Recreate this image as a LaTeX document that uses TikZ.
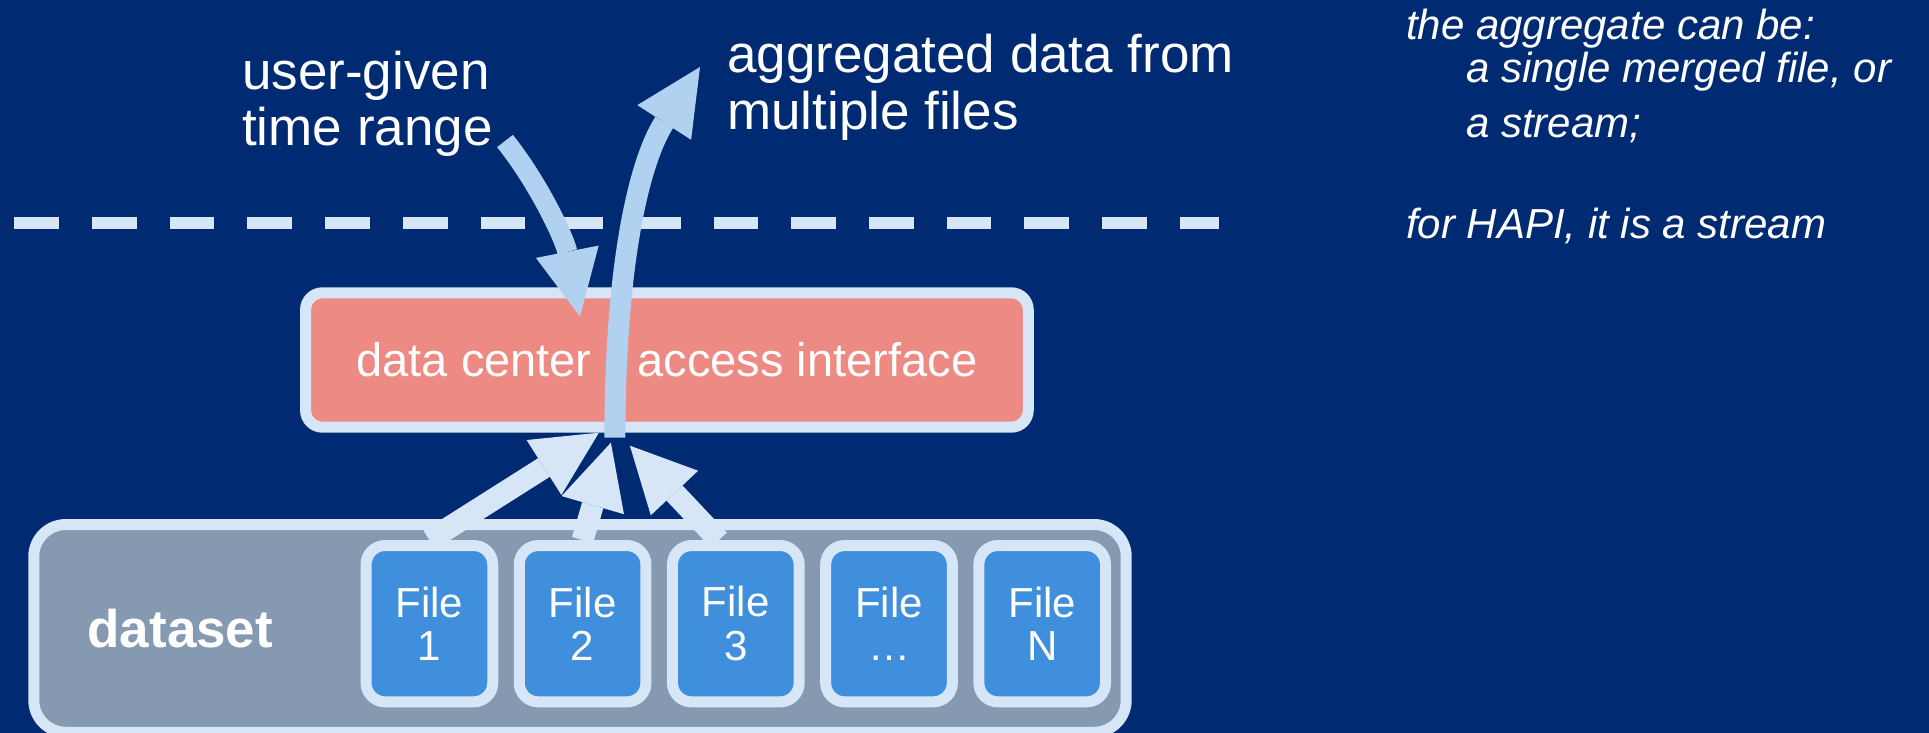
\documentclass[tikz,border=0pt]{standalone}
\usepackage{fontspec}
\setmainfont{Liberation Sans}
\usetikzlibrary{arrows.meta}
\definecolor{bg}{RGB}{0,43,115}
\definecolor{pinkbox}{RGB}{238,138,132}
\definecolor{rim}{RGB}{215,230,247}
\definecolor{arrowblue}{RGB}{177,209,241}
\definecolor{dsgrey}{RGB}{133,153,176}
\definecolor{fileblue}{RGB}{63,143,221}
\begin{document}
\begin{tikzpicture}[x=1pt,y=-1pt,
  bigtext/.style={text=white,inner sep=0pt,anchor=base west,font=\fontsize{53pt}{56pt}\selectfont},
  notetext/.style={text=white,inner sep=0pt,anchor=base west,font=\fontsize{42pt}{44pt}\selectfont\itshape},
  filebox/.style={draw=rim,fill=fileblue,line width=11pt,rounded corners=19pt,minimum width=126.7pt,minimum height=156.3pt,inner sep=0pt,text=white,align=center,font=\fontsize{42pt}{43.5pt}\selectfont},
  dcbox/.style={draw=rim,fill=pinkbox,line width=11pt,rounded corners=17pt,minimum width=722.7pt,minimum height=134.4pt,inner sep=0pt,text=white,font=\fontsize{47pt}{50pt}\selectfont},
  dsbox/.style={draw=rim,fill=dsgrey,line width=11pt,rounded corners=32pt,minimum width=1092.4pt,minimum height=207.7pt,inner sep=0pt},
  sepline/.style={draw=rim,line width=11.3pt,dash pattern=on 44.7pt off 33pt},
  toparrow/.style={draw=arrowblue,line width=20pt,-{Triangle[length=66pt,width=64pt,line width=0pt]}},
  botarrow/.style={draw=rim,line width=22pt,-{Triangle[length=65pt,width=65pt,line width=0pt]}},
]
\useasboundingbox (0,0) rectangle (1929,733);
\fill[bg] (0,0) rectangle (1929,733);

% separator
\coordinate (sepL) at (14.3,223);
\coordinate (sepR) at (1218.7,223);
\draw[sepline] (sepL) -- (sepR);

% dataset and files
\node[dsbox] (dataset) at (580,628.4) {};
\node[text=white,inner sep=0pt,anchor=base west,font=\fontsize{53pt}{56pt}\selectfont\bfseries] (dslabel) at (87.3,647.3) {dataset};
\node[filebox] (file1) at (429.4,623.7) {File\\1};
\node[filebox] (file2) at (582.6,623.7) {File\\2};
\node[filebox] (file3) at (735.8,623.7) {File\\3};
\node[filebox] (file4) at (889,623.7) {File\\…};
\node[filebox] (file5) at (1042.2,623.7) {File\\N};

% data center box
\node[dcbox] (dc) at (666.9,360) {data center\hspace{46pt}access interface};

% labels
\node[bigtext] (ug1) at (242,90) {user-given};
\node[bigtext] (ug2) at (242,146) {time range};
\node[bigtext] (ag1) at (727,73) {aggregated data from};
\node[bigtext] (ag2) at (727,129) {multiple files};

\node[notetext] (n1) at (1406,39.3) {the aggregate can be:};
\node[notetext] (n2) at (1466,83) {a single merged file, or};
\node[notetext] (n3) at (1466,138) {a stream;};
\node[notetext] (n4) at (1406,238) {for HAPI, it is a stream};

% arrows from files to data center
\draw[botarrow] (file1.north) -- ([xshift=-68pt]dc.south);
\draw[botarrow] (file2.north) -- ([xshift=-56pt,yshift=-10pt]dc.south);
\draw[botarrow] ([xshift=-17pt]file3.north) -- ([xshift=-37pt,yshift=-13pt]dc.south);

% top arrows
\coordinate (ugtail) at (505,141);
\coordinate (aggtip) at (700,67);
\draw[toparrow] (ugtail) .. controls (540,185) and (565,240) .. ([xshift=-86.9pt,yshift=-29.2pt]dc.north);
\draw[toparrow,line width=21pt] ([xshift=-52pt,yshift=-5pt]dc.south) .. controls (615,260) and (640,160) .. (aggtip);
\end{tikzpicture}
\end{document}
